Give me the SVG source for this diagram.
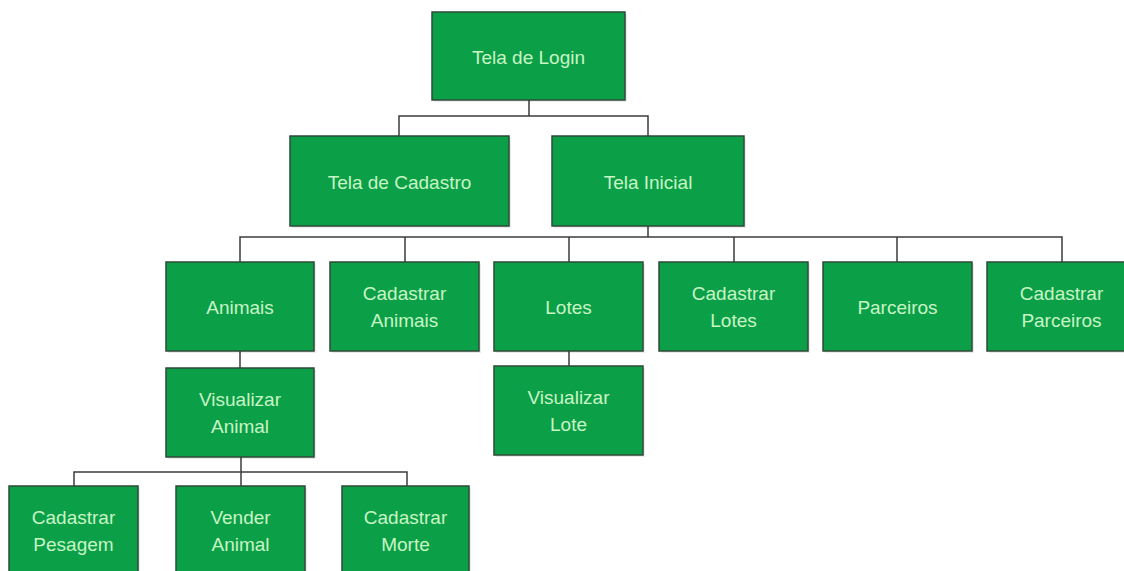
<svg xmlns="http://www.w3.org/2000/svg" width="1124" height="571" viewBox="0 0 1124 571">
<defs>
<style>
.box{fill:#0b9f48;stroke:#2e4a37;stroke-width:1.5}
.sh{fill:#000;opacity:0.08}
.lbl{font-family:"Liberation Sans",Arial,sans-serif;font-size:19px;fill:#c8f5c4;text-anchor:middle}
.con{fill:none;stroke:#3c3c3c;stroke-width:1.5}
</style>
</defs>
<rect width="1124" height="571" fill="#ffffff"/>
<g id="connectors">
<path class="con" d="M529 100V116M399 136V116H648V136"/>
<path class="con" d="M648 226V237M240 262V237H1062V262M405 237V262M569 237V262M734 237V262M897 237V262"/>
<path class="con" d="M240 351V368M569 351V366"/>
<path class="con" d="M241 457V472M74 486V472H407V486M241 472V486"/>
</g>
<g id="login"><rect class="sh" x="434" y="14" width="193" height="88"/><rect class="box" x="432" y="12" width="193" height="88"/><text class="lbl" x="528.5" y="63.5">Tela de Login</text></g>
<g id="cadastro"><rect class="sh" x="292" y="138" width="219" height="90"/><rect class="box" x="290" y="136" width="219" height="90"/><text class="lbl" x="399.5" y="188.5">Tela de Cadastro</text></g>
<g id="inicial"><rect class="sh" x="554" y="138" width="192" height="90"/><rect class="box" x="552" y="136" width="192" height="90"/><text class="lbl" x="648" y="188.5">Tela Inicial</text></g>
<g id="animais"><rect class="sh" x="168" y="264" width="148" height="89"/><rect class="box" x="166" y="262" width="148" height="89"/><text class="lbl" x="240" y="314">Animais</text></g>
<g id="cad-animais"><rect class="sh" x="332" y="264" width="149" height="89"/><rect class="box" x="330" y="262" width="149" height="89"/><text class="lbl" x="404.5" y="300">Cadastrar</text><text class="lbl" x="404.5" y="327">Animais</text></g>
<g id="lotes"><rect class="sh" x="496" y="264" width="149" height="89"/><rect class="box" x="494" y="262" width="149" height="89"/><text class="lbl" x="568.5" y="314">Lotes</text></g>
<g id="cad-lotes"><rect class="sh" x="661" y="264" width="149" height="89"/><rect class="box" x="659" y="262" width="149" height="89"/><text class="lbl" x="733.5" y="300">Cadastrar</text><text class="lbl" x="733.5" y="327">Lotes</text></g>
<g id="parceiros"><rect class="sh" x="825" y="264" width="149" height="89"/><rect class="box" x="823" y="262" width="149" height="89"/><text class="lbl" x="897.5" y="314">Parceiros</text></g>
<g id="cad-parceiros"><rect class="sh" x="989" y="264" width="149" height="89"/><rect class="box" x="987" y="262" width="149" height="89"/><text class="lbl" x="1061.5" y="300">Cadastrar</text><text class="lbl" x="1061.5" y="327">Parceiros</text></g>
<g id="vis-animal"><rect class="sh" x="168" y="370" width="148" height="89"/><rect class="box" x="166" y="368" width="148" height="89"/><text class="lbl" x="240" y="406">Visualizar</text><text class="lbl" x="240" y="433">Animal</text></g>
<g id="vis-lote"><rect class="sh" x="496" y="368" width="149" height="89"/><rect class="box" x="494" y="366" width="149" height="89"/><text class="lbl" x="568.5" y="404">Visualizar</text><text class="lbl" x="568.5" y="431">Lote</text></g>
<g id="cad-pesagem"><rect class="sh" x="11" y="488" width="129" height="89"/><rect class="box" x="9" y="486" width="129" height="89"/><text class="lbl" x="73.5" y="524">Cadastrar</text><text class="lbl" x="73.5" y="551">Pesagem</text></g>
<g id="vender"><rect class="sh" x="178" y="488" width="129" height="89"/><rect class="box" x="176" y="486" width="129" height="89"/><text class="lbl" x="240.5" y="524">Vender</text><text class="lbl" x="240.5" y="551">Animal</text></g>
<g id="cad-morte"><rect class="sh" x="344" y="488" width="127" height="89"/><rect class="box" x="342" y="486" width="127" height="89"/><text class="lbl" x="405.5" y="524">Cadastrar</text><text class="lbl" x="405.5" y="551">Morte</text></g>
</svg>
